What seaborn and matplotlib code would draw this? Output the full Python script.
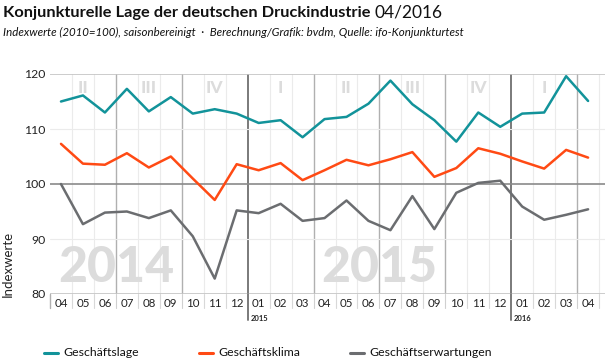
import matplotlib
matplotlib.use("Agg")
import matplotlib.pyplot as plt
import seaborn as sns
import pandas as pd
import numpy as np

months = ["04", "05", "06", "07", "08", "09", "10", "11", "12",
          "01", "02", "03", "04", "05", "06", "07", "08", "09", "10", "11", "12",
          "01", "02", "03", "04"]
geschaeftslage = [115.0, 116.1, 113.0, 117.3, 113.2, 115.8, 112.8, 113.6, 112.8,
                  111.1, 111.6, 108.5, 111.8, 112.2, 114.6, 118.8, 114.5, 111.6,
                  107.7, 113.0, 110.4, 112.8, 113.0, 119.6, 115.1]
geschaeftsklima = [107.3, 103.7, 103.5, 105.6, 103.0, 105.0, 101.0, 97.1, 103.6,
                   102.5, 103.8, 100.7, 102.5, 104.4, 103.4, 104.5, 105.8, 101.3,
                   102.9, 106.5, 105.5, 104.1, 102.8, 106.2, 104.8]
geschaeftserwartungen = [100.0, 92.7, 94.8, 95.0, 93.8, 95.2, 90.5, 82.8, 95.2,
                         94.7, 96.4, 93.3, 93.8, 97.0, 93.3, 91.6, 97.8, 91.8,
                         98.4, 100.2, 100.6, 95.9, 93.5, 94.4, 95.4]
series_names = ["Geschäftslage", "Geschäftsklima", "Geschäftserwartungen"]
series_colors = ["#12939a", "#ff4a14", "#6b6d70"]
quarter_labels = ["II", "III", "IV", "I", "II", "III", "IV", "I"]
year_labels = ["2014", "2015"]
year_small = ["2015", "2016"]

sns.set_theme(style="white")
plt.rcParams['font.family'] = ['Lato', 'DejaVu Sans']

n = len(months)
idx = np.arange(n)
df = pd.DataFrame({
    "i": np.tile(idx, 3),
    "v": geschaeftslage + geschaeftsklima + geschaeftserwartungen,
    "s": np.repeat(series_names, n),
})

fig = plt.figure(figsize=(6.10, 3.62), dpi=100)
ax = fig.add_axes([50/610, 1-294/362, 555/610, 220/362])
ax.set_xlim(-0.5, 24.77)
ax.set_ylim(80, 120)

# vertical grid lines
for k in range(n):
    b = k + 0.5
    mo = months[k]
    if b > 24.6:
        ax.axvline(b, color="#ebebeb", lw=0.8, zorder=0)
        continue
    if mo == "12":
        ax.axvline(b, color="#7a7a7a", lw=1.4, zorder=1)
        ax.plot([b, b], [0, -0.12], transform=ax.get_xaxis_transform(),
                color="#7a7a7a", lw=1.4, clip_on=False)
    elif mo in ("03", "06", "09"):
        ax.axvline(b, color="#b0b0b0", lw=1.0, zorder=1)
        ax.plot([b, b], [0, -0.065], transform=ax.get_xaxis_transform(),
                color="#d0d0d0", lw=0.8, clip_on=False)
    else:
        ax.axvline(b, color="#ebebeb", lw=0.8, zorder=0)
        ax.plot([b, b], [0, -0.065], transform=ax.get_xaxis_transform(),
                color="#d8d8d8", lw=0.8, clip_on=False)
ax.plot([-0.5, -0.5], [0, -0.065], transform=ax.get_xaxis_transform(),
        color="#b0b0b0", lw=1.0, clip_on=False)

# horizontal grid lines
for yv, c, w in [(110, "#ebebeb", 0.8), (90, "#ebebeb", 0.8), (100, "#8a8a8a", 1.2),
                 (120, "#c4c4c4", 1.2), (80, "#c4c4c4", 1.2)]:
    ax.axhline(yv, color=c, lw=w, zorder=1)

# background labels
qpos = [1, 4, 7, 10, 13, 16, 19, 22]
for q, p in zip(quarter_labels, qpos):
    ax.text(p, 117.4, q, ha="center", va="center", fontsize=12.5, fontweight="black",
            color="#dcdcdc", zorder=0)
for y, p in zip(year_labels, [2.5, 14.5]):
    ax.text(p, 84.9, y, ha="center", va="center", fontsize=36, fontweight="black",
            color="#dcdcdc", zorder=0)

sns.lineplot(data=df, x="i", y="v", hue="s", palette=series_colors,
             hue_order=series_names, lw=1.8, ax=ax, legend=False, zorder=3)

for sp in ax.spines.values():
    sp.set_visible(False)
ax.plot([-0.5, -0.5], [0, 1], transform=ax.transAxes, color="#b0b0b0", lw=1.0)

ax.set_xticks(idx)
ax.set_xticklabels(months, fontsize=8.3, color="#222222")
ax.set_yticks([80, 90, 100, 110, 120])
ax.set_yticklabels(["80", "90", "100", "110", "120"], fontsize=8.8, color="#222222")
ax.tick_params(axis="both", length=0, pad=3)
ax.set_xlabel("")
ax.set_ylabel("")

for y, p in zip(year_small, [8.5, 20.5]):
    ax.text(p + 0.12, -0.11, y, transform=ax.get_xaxis_transform(), ha="left",
            va="center", fontsize=5.5, fontweight="bold", color="#222222")

fig.text(8/610, 1-297/362, "Indexwerte", rotation=90, ha="center", va="bottom",
         fontsize=9.5, color="#222222")

# title
t = fig.text(3/610, 1-13/362, "Konjunkturelle Lage der deutschen Druckindustrie",
             fontsize=11.8, fontweight="bold", color="#111111", va="center", ha="left")
fig.canvas.draw()
bb = t.get_window_extent()
fig.text((bb.x1 + 4)/610, 1-13/362, "04/2016", fontsize=12.5, color="#111111",
         va="center", ha="left")
fig.text(3/610, 1-32/362,
         "Indexwerte (2010=100), saisonbereinigt  ·  Berechnung/Grafik: bvdm, Quelle: ifo-Konjunkturtest",
         fontsize=8.3, style="italic", color="#111111", va="center", ha="left")

# legend
leg_x = [44, 199, 350]
for name, col, lx in zip(series_names, series_colors, leg_x):
    fig.add_artist(plt.Line2D([lx/610, (lx+14)/610], [1-353/362, 1-353/362],
                              color=col, lw=2.2))
    fig.text((lx+19)/610, 1-353/362, name, fontsize=8.8, color="#111111",
             va="center", ha="left")

fig.savefig("out.png", dpi=100)
